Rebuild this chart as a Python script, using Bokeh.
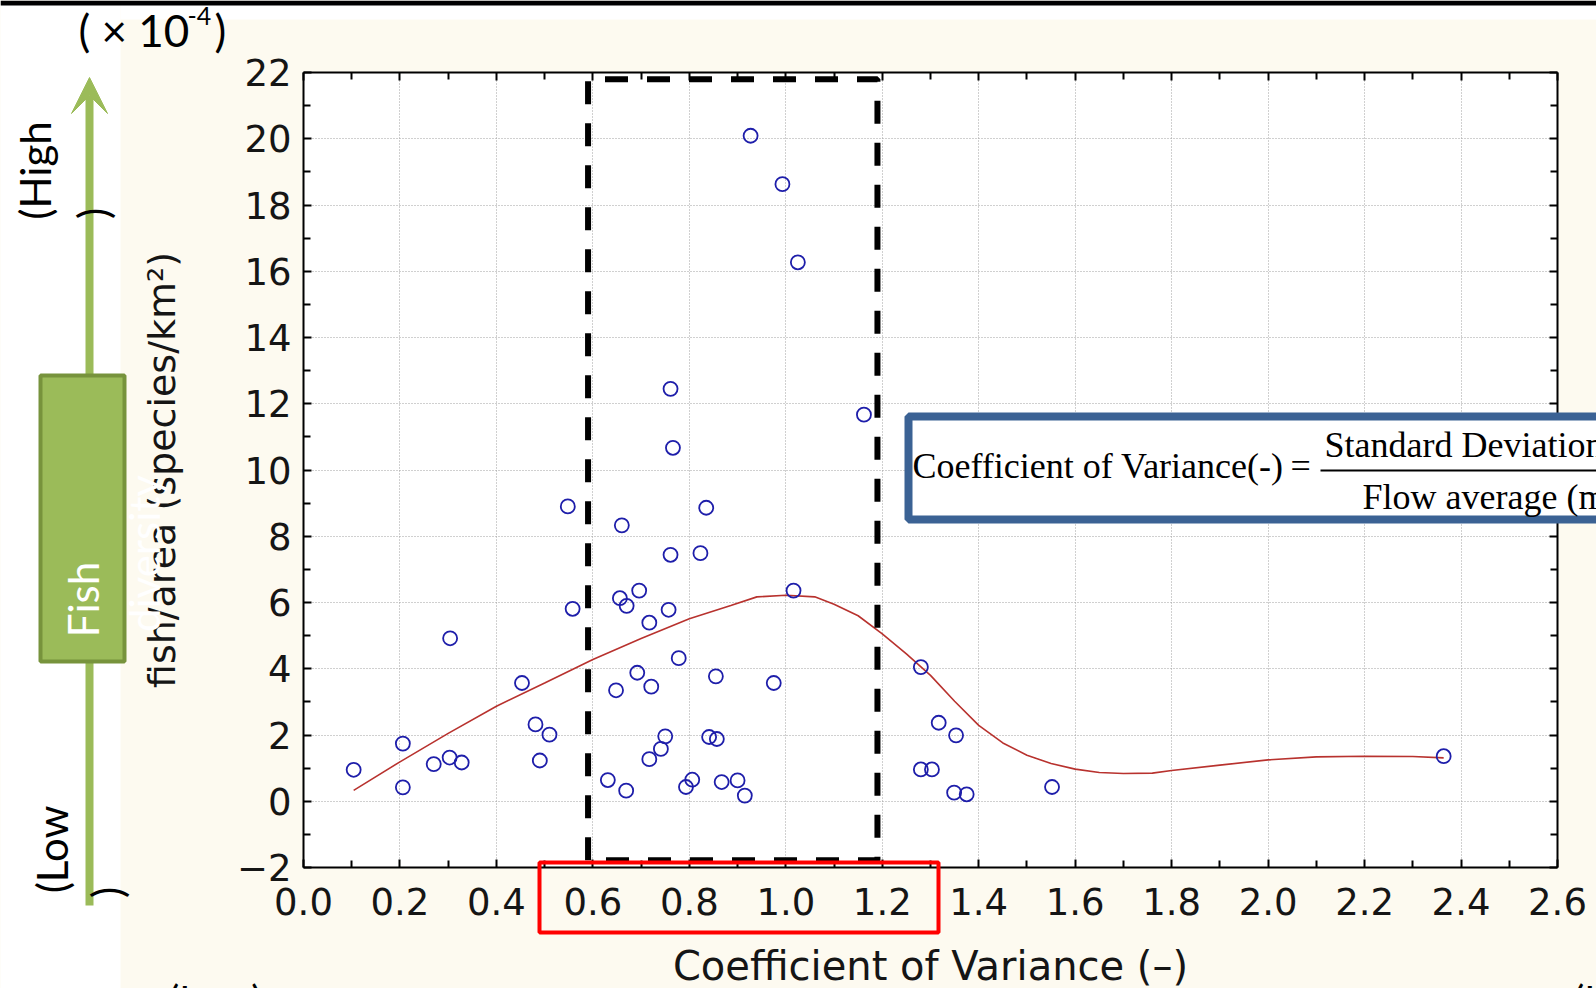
import math
from bokeh.plotting import figure
from bokeh.models import (LinearAxis, FixedTicker, Grid, PrintfTickFormatter,
                          BoxAnnotation, Label, Arrow, VeeHead)
from bokeh.embed import file_html
from bokeh.resources import INLINE

# ---------------- data ----------------
cv = [0.104, 0.206, 0.206, 0.270, 0.303, 0.328, 0.304, 0.453, 0.481, 0.510,
      0.490, 0.558, 0.548, 0.761, 0.766, 0.660, 0.835, 0.761, 0.823, 0.696,
      0.656, 0.670, 0.757, 0.717, 1.016, 1.162, 0.778, 0.692, 0.648, 0.721,
      0.855, 0.975, 0.750, 0.741, 0.717, 0.841, 0.857, 0.631, 0.669, 0.806,
      0.793, 0.867, 0.900, 0.915, 0.927, 0.993, 1.025, 1.280, 1.317, 1.353,
      1.280, 1.303, 1.349, 1.375, 1.552, 2.364]
fish = [0.95, 1.74, 0.42, 1.12, 1.32, 1.17, 4.92, 3.57, 2.32, 2.01,
        1.23, 5.81, 8.90, 12.45, 10.67, 8.33, 8.86, 7.44, 7.49, 6.36,
        6.13, 5.90, 5.78, 5.39, 6.36, 11.67, 4.32, 3.88, 3.35, 3.46,
        3.77, 3.57, 1.96, 1.58, 1.27, 1.94, 1.88, 0.64, 0.32, 0.65,
        0.43, 0.58, 0.63, 0.17, 20.09, 18.63, 16.27, 4.05, 2.37, 1.99,
        0.96, 0.96, 0.26, 0.21, 0.43, 1.36]

fit_cv = [0.104, 0.2, 0.3, 0.4, 0.5, 0.6, 0.7, 0.8, 0.886, 0.94, 1.0, 1.06,
          1.1, 1.15, 1.2, 1.25, 1.3, 1.35, 1.4, 1.45, 1.5, 1.55, 1.6, 1.65,
          1.7, 1.76, 1.8, 1.9, 2.0, 2.1, 2.2, 2.3, 2.364]
fit_fish = [0.33, 1.19, 2.05, 2.87, 3.57, 4.28, 4.91, 5.51, 5.91, 6.17, 6.22, 6.17,
            5.95, 5.6, 5.05, 4.45, 3.8, 3.02, 2.29, 1.76, 1.39, 1.14, 0.97, 0.87,
            0.84, 0.85, 0.93, 1.09, 1.25, 1.34, 1.36, 1.35, 1.31]

x_ticks = [0.0, 0.2, 0.4, 0.6, 0.8, 1.0, 1.2, 1.4, 1.6, 1.8, 2.0, 2.2, 2.4, 2.6]
x_minor = [0.1, 0.3, 0.5, 0.7, 0.9, 1.1, 1.3, 1.5, 1.7, 1.9, 2.1, 2.3, 2.5]
y_ticks = [-2, 0, 2, 4, 6, 8, 10, 12, 14, 16, 18, 20, 22]
y_minor = [-1, 1, 3, 5, 7, 9, 11, 13, 15, 17, 19, 21]

cv_band = [0.59, 1.19]          # highlighted range of CV
band_fish = [-1.78, 21.8]       # vertical extent of the dashed frame

# ---------------- layout helpers ----------------
W, H = 1596, 988
FL, FR, FT, FB = 303, 1557, 72, 867  # plot area, page pixels
X0, X1, Y0, Y1 = 0.0, 2.6, -2.0, 22.0


def X(px):
    return X0 + (px - FL) * (X1 - X0) / (FR - FL)


def Y(py):
    return Y1 - (py - FT) * (Y1 - Y0) / (FB - FT)


CREAM = "#FDFAF0"
GREEN = "#9BBB59"
DGREEN = "#77933C"

p = figure(width=W, height=H, x_range=(X(0), X(W)), y_range=(Y(H), Y(0)),
           output_backend="svg", toolbar_location=None,
           x_axis_type=None, y_axis_type=None,
           min_border_left=0, min_border_right=0,
           min_border_top=0, min_border_bottom=0)
p.title.visible = False
p.background_fill_color = CREAM
p.border_fill_color = CREAM
p.outline_line_color = None

# white strips, black top bar, white plot area
for l, r, t, b, c in ((0, 120, 0, H, "white"), (120, W, 0, 19, "white"),
                      (0, W, 0, 5, "black")):
    p.add_layout(BoxAnnotation(left=X(l), right=X(r), top=Y(t), bottom=Y(b),
                               fill_color=c, fill_alpha=1, line_color=None,
                               level="underlay"))
p.add_layout(BoxAnnotation(left=X0, right=X1, top=Y1, bottom=Y0,
                           fill_color="white", fill_alpha=1, line_color=None,
                           level="underlay"))

xt = FixedTicker(ticks=x_ticks, minor_ticks=x_minor)
yt = FixedTicker(ticks=y_ticks, minor_ticks=y_minor)

for dim, tk, bnd, cb in ((0, xt, (X0, X1), (Y0, Y1)), (1, yt, (Y0, Y1), (X0, X1))):
    p.add_layout(Grid(dimension=dim, ticker=tk, bounds=bnd, cross_bounds=cb,
                      grid_line_color="#A0A0A0", grid_line_dash="1 2",
                      grid_line_width=1))

TICKFONT = "DejaVu Sans"


def style_axis(ax, ticks, labels=True):
    ax.axis_line_color = "black"
    ax.axis_line_width = 2
    ax.major_tick_in = 8
    ax.major_tick_out = 0
    ax.minor_tick_in = 7
    ax.minor_tick_out = 0
    ax.major_tick_line_width = 2
    ax.minor_tick_line_width = 2
    ax.major_tick_line_color = "black"
    ax.minor_tick_line_color = "black"
    ax.major_label_text_font = TICKFONT
    ax.major_label_text_font_size = "37px"
    ax.major_label_text_color = "#151515"
    if not labels:
        ax.major_label_overrides = {t: "" for t in ticks}


xb = LinearAxis(ticker=xt, formatter=PrintfTickFormatter(format="%.1f"),
                fixed_location=Y0, bounds=(X0, X1))
style_axis(xb, x_ticks)
xb.major_label_standoff = 20
p.add_layout(xb, "below")

yl = LinearAxis(ticker=yt, axis_label="fish/area (species/km²)",
                fixed_location=X0, bounds=(Y0, Y1))
style_axis(yl, y_ticks)
yl.major_label_standoff = 12
yl.major_label_overrides = {-2: "−2"}
yl.axis_label_text_font = TICKFONT
yl.axis_label_text_font_size = "38px"
yl.axis_label_text_font_style = "normal"
yl.axis_label_text_color = "#151515"
yl.axis_label_standoff = 50
p.add_layout(yl, "left")

xa = LinearAxis(ticker=xt, fixed_location=Y1, bounds=(X0, X1))
style_axis(xa, x_ticks, labels=False)
p.add_layout(xa, "above")
yr = LinearAxis(ticker=yt, fixed_location=X1, bounds=(Y0, Y1))
style_axis(yr, y_ticks, labels=False)
p.add_layout(yr, "right")

# ---------------- data marks ----------------
p.line(fit_cv, fit_fish, line_color="#B8322E", line_width=1.6)
p.scatter(cv, fish, marker="circle", size=14, fill_color=None,
          line_color="#1E1EAA", line_width=1.8)

# dashed frame around the optimal CV range
bx = [cv_band[0], cv_band[0], cv_band[1], cv_band[1], cv_band[0]]
by = [band_fish[0], band_fish[1], band_fish[1], band_fish[0], band_fish[0]]
p.line(bx, by, line_color="black", line_width=6, line_dash="23 19")

# ---------------- decorations (page-pixel positions) ----------------
# green arrow
p.add_layout(Arrow(end=VeeHead(size=36, fill_color=GREEN, line_color=GREEN, line_width=1),
                   x_start=X(89), y_start=Y(905), x_end=X(89), y_end=Y(77),
                   line_color=GREEN, line_width=8))
# green box
p.add_layout(BoxAnnotation(left=X(40), right=X(124), top=Y(375), bottom=Y(661),
                           fill_color=GREEN, fill_alpha=1, line_color=DGREEN,
                           line_alpha=1, line_width=4))

# red rectangle around 0.6-1.2 labels
p.add_layout(BoxAnnotation(left=X(539), right=X(938), top=Y(862), bottom=Y(932),
                           fill_alpha=0, line_color="#FF0000", line_alpha=1, line_width=4))

# formula box
p.add_layout(BoxAnnotation(left=X(908), right=X(1700), top=Y(416), bottom=Y(519),
                           fill_color="white", fill_alpha=1, line_color="#3B6294",
                           line_alpha=1, line_width=8))
p.add_layout(BoxAnnotation(left=X(1320), right=X(1700), top=Y(469), bottom=Y(471),
                           fill_color="black", fill_alpha=1, line_color=None))


def lab(text, px, py, size, font="Lato", color="black", align="left",
        baseline="alphabetic", angle=0.0):
    p.add_layout(Label(x=X(px), y=Y(py), text=text, text_font=font,
                       text_font_size=f"{size}px", text_color=color,
                       text_align=align, text_baseline=baseline, angle=angle))


SERIF = "Liberation Serif"
lab("Coefficient of Variance(-)", 912, 465, 36, font=SERIF)
lab("=", 1290, 465, 36, font=SERIF)
lab("Standard  Deviation  (m³/s)", 1324, 444, 36, font=SERIF)
lab("Flow  average  (m³/s)", 1362, 496, 36, font=SERIF)

# x axis title
lab("Coefficient of Variance (–)", 930, 965, 40, font=TICKFONT, color="#151515",
    align="center", baseline="middle")

# multiplier
lab("( × 10", 78, 29, 44)
lab("-4", 187, 15, 25)
lab(")", 214, 29, 44)

R = math.pi / 2
lab("(High", 34, 170, 42, align="center", baseline="middle", angle=R)
lab(")", 92, 213, 42, align="center", baseline="middle", angle=R)
lab("(Low", 51, 849, 42, align="center", baseline="middle", angle=R)
lab(")", 106, 892, 42, align="center", baseline="middle", angle=R)
lab("Fish", 82, 599, 42, color="white", align="center", baseline="middle", angle=R)
lab("diversity", 143, 553, 42, color="white", align="center", baseline="middle", angle=R)

# cut-off labels at the bottom edge
lab("(Low)", 168, 975, 40, baseline="top")
lab("(High)", 1573, 975, 40, baseline="top")

open("out.html", "w").write(file_html(p, INLINE))
